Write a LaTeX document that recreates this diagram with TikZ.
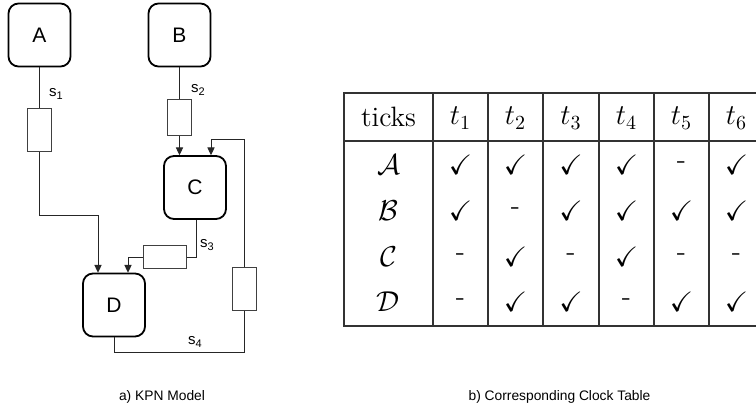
\documentclass[tikz,border=0pt]{standalone}
\usepackage{amssymb}
\usepackage{fontspec}
\setsansfont{Liberation Sans}
\usetikzlibrary{arrows.meta,calc}
\newcommand{\chsub}[1]{\raisebox{-1.6pt}{\fontsize{5.5}{6}\selectfont #1}}
\begin{document}
\begin{tikzpicture}[x=0.5pt,y=-0.5pt,
  proc/.style={draw,line width=0.9pt,rounded corners=5pt,minimum width=31pt,minimum height=31.5pt,inner sep=0pt,font=\sffamily\fontsize{10.5}{12}\selectfont},
  fifov/.style={draw=black!75,line width=0.5pt,minimum width=12pt,minimum height=21.5pt,inner sep=0pt},
  fifoh/.style={draw=black!75,line width=0.5pt,minimum width=21.5pt,minimum height=11.5pt,inner sep=0pt},
  conn/.style={draw=black!85,line width=0.5pt},
  arr/.style={conn,-{Triangle[length=3.8pt,width=3.6pt]}},
  lab/.style={font=\sffamily\fontsize{7.5}{9}\selectfont,inner sep=0pt},
  captxt/.style={font=\sffamily\fontsize{6.9}{8}\selectfont,inner sep=0pt},
  tline/.style={draw=black!80,line width=0.55pt},
  cell/.style={font=\fontsize{14}{16}\selectfont,inner sep=0pt}]
\useasboundingbox (0,0) rectangle (756,406);
% processes
\node[proc] (A) at (39.5,35) {A};
\node[proc] (B) at (179.5,35) {B};
\node[proc] (C) at (195,187.5) {C};
\node[proc] (D) at (114,305) {D};
% fifos
\node[fifov] (b1) at (39.5,130.5) {};
\node[fifov,minimum height=18pt] (b2) at (179.5,118) {};
\node[fifoh] (b3) at (164.5,257.5) {};
\node[fifov] (b4) at (244,289) {};
% connectors
\coordinate (a1) at (98,216);
\draw[conn] (A.south) -- (b1.north);
\draw[arr] (b1.south) |- (a1) -- (a1 |- D.north);
\draw[conn] (B.south) -- (b2.north);
\draw[arr] (b2.south) -- (b2.south |- C.north);
\coordinate (c1) at (128,250);
\draw[conn] ($(C.south)+(1,0)$) |- (b3.east);
\draw[arr] (b3.west) -| (c1 |- D.north);
\coordinate (d1) at (114,353);
\coordinate (f1) at (211,140);
\draw[conn] (D.south) -- (d1) -| (b4.south);
\draw[arr] (b4.north) |- (f1) -- (f1 |- C.north);
% labels
\node[lab] (l1) at (56,94) {s\chsub{1}};
\node[lab] (l2) at (198,90) {s\chsub{2}};
\node[lab] (l3) at (207,245) {s\chsub{3}};
\node[lab] (l4) at (195,342) {s\chsub{4}};
\node[captxt] (capa) at (162,397) {a) KPN Model};
\node[captxt] (capb) at (559.5,397) {b) Corresponding Clock Table};
% table
\draw[tline] (756,93) -- (344,93) -- (344,326) -- (756,326);
\draw[tline] (344,141) -- (756,141);
\foreach \x in {433,488,543,599,654,709} \draw[tline] (\x,93) -- (\x,326);
% header
\node[cell] (h0) at (388.5,117) {ticks};
\foreach \i/\x in {1/460.5,2/515.5,3/571,4/626.5,5/681.5,6/736.5}
  \node[cell] (h\i) at (\x,118) {$t_{\i}$};
% rows
\foreach \r/\n/\y in {1/A/165,2/B/211,3/C/257,4/D/302}
  \node[cell] (r\r) at (388.5,\y) {$\mathcal{\n}$};
\newcommand{\ck}{$\checkmark$}
\newcommand{\ds}{-}
\foreach \r/\y/\a/\b/\c/\d/\e/\f in {
  1/165/\ck/\ck/\ck/\ck/\ds/\ck,
  2/211/\ck/\ds/\ck/\ck/\ck/\ck,
  3/257/\ds/\ck/\ds/\ck/\ds/\ds,
  4/302/\ds/\ck/\ck/\ds/\ck/\ck}{
  \node[cell] (c\r-1) at (460.5,\y) {\a};
  \node[cell] (c\r-2) at (515.5,\y) {\b};
  \node[cell] (c\r-3) at (571,\y) {\c};
  \node[cell] (c\r-4) at (626.5,\y) {\d};
  \node[cell] (c\r-5) at (681.5,\y) {\e};
  \node[cell] (c\r-6) at (736.5,\y) {\f};
}
\end{tikzpicture}
\end{document}
